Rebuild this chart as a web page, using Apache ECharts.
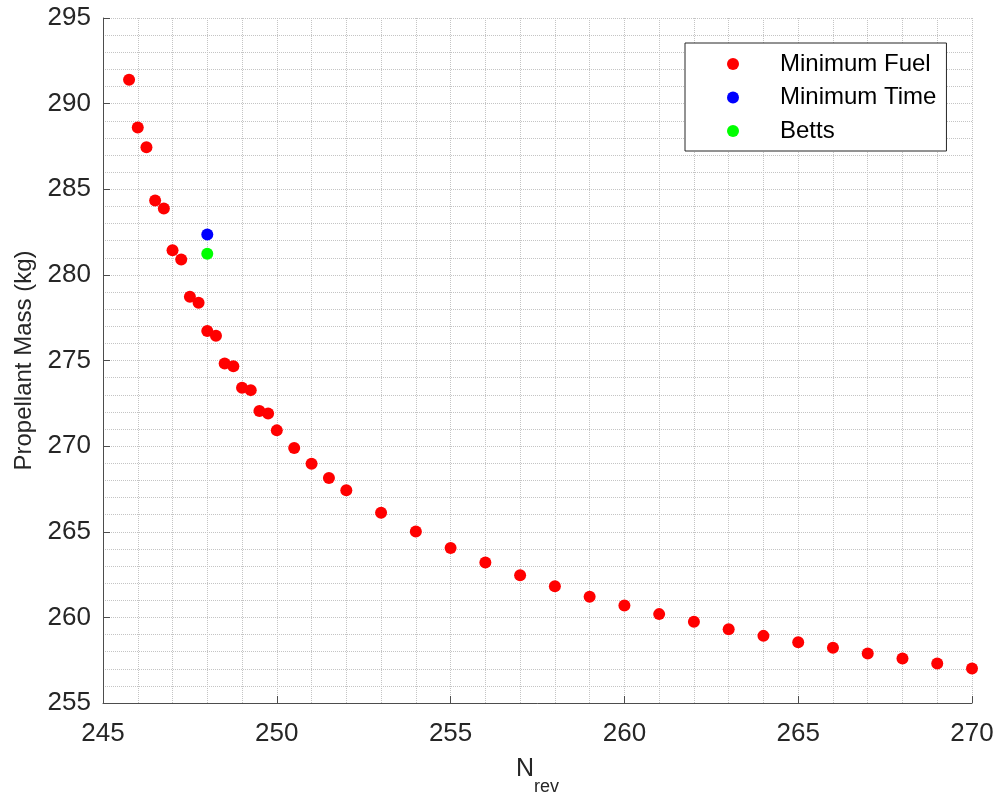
<!DOCTYPE html>
<html>
<head>
<meta charset="utf-8">
<script src="https://cdn.jsdelivr.net/npm/echarts@6/dist/echarts.min.js"></script>
<style>html,body{margin:0;padding:0;background:#fff;}#chart{width:997px;height:792px;}</style>
</head>
<body>
<div id="chart"></div>
<script>
// Data
const nrevFuel = [245.75, 246, 246.25, 246.5, 246.75, 247, 247.25, 247.5, 247.75, 248, 248.25, 248.5, 248.75, 249, 249.25, 249.5, 249.75, 250, 250.5, 251, 251.5, 252, 253, 254, 255, 256, 257, 258, 259, 260, 261, 262, 263, 264, 265, 266, 267, 268, 269, 270];
const massFuel = [291.40, 288.60, 287.45, 284.34, 283.87, 281.44, 280.90, 278.72, 278.37, 276.72, 276.44, 274.83, 274.67, 273.41, 273.27, 272.05, 271.91, 270.92, 269.89, 268.97, 268.14, 267.42, 266.11, 265.01, 264.05, 263.20, 262.46, 261.82, 261.21, 260.69, 260.19, 259.74, 259.31, 258.92, 258.55, 258.22, 257.89, 257.60, 257.30, 257.01];
const nrevTime = [248];
const massTime = [282.36];
const nrevBetts = [248];
const massBetts = [281.23];
const seriesNames = ['Minimum Fuel', 'Minimum Time', 'Betts'];
const xTicks = [245, 250, 255, 260, 265, 270];
const yTicks = [255, 260, 265, 270, 275, 280, 285, 290, 295];

const FONT = '"Liberation Sans", Arial, Helvetica, sans-serif';
const TXT = '#262626';
const GRIDC = '#c4c4c4';
const AXC = '#4d4d4d';

function pairs(xs, ys) { return xs.map((x, i) => [x, ys[i]]); }

const chart = echarts.init(document.getElementById('chart'), null, {renderer: 'canvas'});
const axisCommon = {
  axisLine: {show: true, onZero: false, lineStyle: {color: AXC, width: 1}},
  axisTick: {show: true, inside: true, length: 7, lineStyle: {color: AXC, width: 1}},
  splitLine: {show: true, lineStyle: {color: GRIDC, type: 'dotted', width: 1}},
  minorTick: {show: false, splitNumber: 5},
  minorSplitLine: {show: true, lineStyle: {color: GRIDC, type: 'dotted', width: 1}},
  axisLabel: {color: TXT, fontSize: 26, fontFamily: FONT}
};
chart.setOption({
  animation: false,
  backgroundColor: '#ffffff',
  grid: {left: 103, right: 25, top: 18, bottom: 89, containLabel: false, outerBoundsMode: 'none'},
  xAxis: Object.assign({}, axisCommon, {
    type: 'value', min: xTicks[0], max: xTicks[xTicks.length - 1], interval: 5,
    axisLabel: Object.assign({}, axisCommon.axisLabel, {margin: 18}),
    name: '{n|N}{s|rev}', nameLocation: 'middle', nameGap: 54,
    nameTextStyle: {
      color: TXT, fontFamily: FONT,
      rich: {
        n: {fontSize: 25, fontFamily: FONT, color: TXT, verticalAlign: 'top', lineHeight: 25},
        s: {fontSize: 18, fontFamily: FONT, color: TXT, verticalAlign: 'top', lineHeight: 18, padding: [21, 0, 0, 0]}
      }
    }
  }),
  yAxis: Object.assign({}, axisCommon, {
    type: 'value', min: yTicks[0], max: yTicks[yTicks.length - 1], interval: 5,
    axisLabel: Object.assign({}, axisCommon.axisLabel, {margin: 12}),
    name: 'Propellant Mass (kg)', nameLocation: 'middle', nameGap: 67, nameRotate: 90,
    nameTextStyle: {color: TXT, fontSize: 24, fontFamily: FONT}
  }),
  legend: {
    show: true, orient: 'vertical', left: 685, top: 43,
    data: seriesNames.map(n => ({name: n, icon: 'circle'})),
    itemWidth: 84, itemHeight: 12, itemGap: 9.5,
    padding: [9, 10, 8, 42],
    borderColor: '#262626', borderWidth: 1, backgroundColor: '#ffffff',
    textStyle: {color: '#000', fontSize: 24, fontFamily: FONT, lineHeight: 24}
  },
  series: [
    {name: seriesNames[0], type: 'scatter', data: pairs(nrevFuel, massFuel), symbol: 'circle', symbolSize: 12, itemStyle: {color: '#ff0000', opacity: 1}, clip: false},
    {name: seriesNames[1], type: 'scatter', data: pairs(nrevTime, massTime), symbol: 'circle', symbolSize: 12, itemStyle: {color: '#0000ff', opacity: 1}, clip: false},
    {name: seriesNames[2], type: 'scatter', data: pairs(nrevBetts, massBetts), symbol: 'circle', symbolSize: 12, itemStyle: {color: '#00ff00', opacity: 1}, clip: false}
  ]
});
</script>
</body>
</html>
